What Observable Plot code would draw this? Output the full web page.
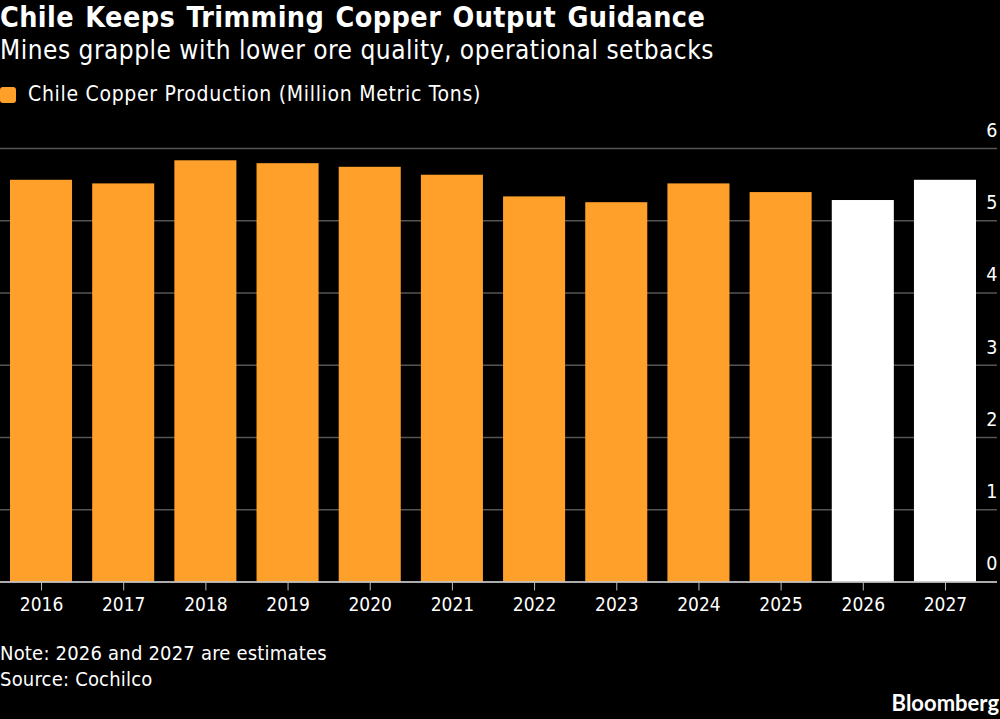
<!DOCTYPE html>
<html><head><meta charset="utf-8">
<script src="https://cdn.jsdelivr.net/npm/d3@7"></script>
<script src="https://cdn.jsdelivr.net/npm/@observablehq/plot@0.6"></script>
<style>
html,body{margin:0;padding:0;background:#000;color:#fff;width:1000px;height:719px;overflow:hidden;font-family:"DejaVu Sans Condensed","DejaVu Sans",sans-serif}
#wrap{position:relative;width:1000px;height:719px}
#wrap div{position:absolute;white-space:nowrap}
#title{left:0;top:1px;font-size:28.5px;font-weight:700;line-height:34px;letter-spacing:.4px;word-spacing:2px}
#sub{left:0;top:34px;font-size:26px;line-height:32px;letter-spacing:.5px}
#legend{left:0;top:82px;font-size:21px;line-height:24px;letter-spacing:.7px}
#sw{display:inline-block;width:16px;height:16px;border-radius:3px;background:#ffa02b;vertical-align:-2px;margin-right:12px}
#note{left:0;top:640px;font-size:20px;line-height:26px;letter-spacing:.2px}
#brand{right:1px;top:690px;font-family:Lato,sans-serif;font-weight:700;font-size:22px;line-height:26px}
#chart{left:0;top:110px}
svg{display:block}
</style></head><body>
<div id="wrap">
<div id="title">Chile Keeps Trimming Copper Output Guidance</div>
<div id="sub">Mines grapple with lower ore quality, operational setbacks</div>
<div id="legend"><span id="sw"></span>Chile Copper Production (Million Metric Tons)</div>
<div id="chart"></div>
<div id="note">Note: 2026 and 2027 are estimates<br>Source: Cochilco</div>
<div id="brand">Bloomberg</div>
</div>
<script>
const years = ["2016","2017","2018","2019","2020","2021","2022","2023","2024","2025","2026","2027"];
const production = [5.56,5.51,5.83,5.79,5.74,5.63,5.33,5.25,5.51,5.39,5.28,5.56];
const kinds = ["actual","actual","actual","actual","actual","actual","actual","actual","actual","actual","estimate","estimate"];
const yTicks = [0,1,2,3,4,5,6];
const table = years.map((year,i)=>({year,value:production[i],kind:kinds[i]}));
const font = '"DejaVu Sans Condensed","DejaVu Sans",sans-serif';
const plot = Plot.plot({
  width:1000,height:530,marginTop:38,marginBottom:58.5,marginLeft:10,marginRight:24,
  style:{background:"#000",color:"#fff",fontFamily:font,fontSize:"19px"},
  x:{domain:years,paddingInner:0.245,paddingOuter:0,round:false,label:null},
  y:{domain:[0,6],label:null,axis:null},
  color:{domain:["actual","estimate"],range:["#ffa02b","#ffffff"]},
  marks:[
    Plot.ruleY(yTicks.filter(d=>d>0),{stroke:"#555",strokeWidth:1.5,insetLeft:-10,insetRight:-21}),
    Plot.barY(table,{x:"year",y:"value",fill:"kind"}),
    Plot.ruleY([0],{stroke:"#e6e6e6",strokeWidth:1.5,insetLeft:-10,insetRight:-21}),
    Plot.axisX({tickSize:9,tickPadding:6,stroke:"#bbb",fill:"#fff",fontSize:19,label:null}),
    Plot.text(yTicks,{y:d=>d,text:d=>String(d),frameAnchor:"right",textAnchor:"end",dx:21,dy:-18,fill:"#fff",fontSize:19.5})
  ]
});
document.getElementById("chart").appendChild(plot);
</script>
</body></html>
